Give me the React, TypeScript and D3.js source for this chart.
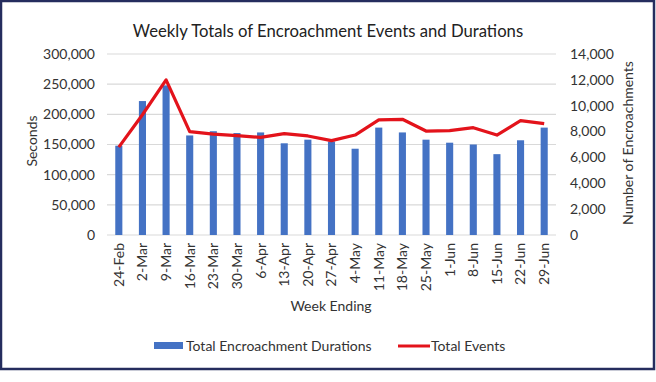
import React from "react";
import * as d3 from "d3";

const weeks = ["24-Feb","2-Mar","9-Mar","16-Mar","23-Mar","30-Mar","6-Apr","13-Apr","20-Apr","27-Apr","4-May","11-May","18-May","25-May","1-Jun","8-Jun","15-Jun","22-Jun","29-Jun"];
const durations = [148000,222000,248000,165000,172000,169000,170000,152000,158000,155000,143000,178000,170000,158000,153000,150000,134000,157000,178000];
const events = [6800,9300,12000,8000,7800,7680,7550,7840,7660,7300,7730,8900,8950,8040,8070,8300,7730,8840,8610];
const leftTicks = [0,50000,100000,150000,200000,250000,300000];
const rightTicks = [0,2000,4000,6000,8000,10000,12000,14000];

const W = 656, H = 382;
const FONT = "Lato, 'Open Sans', sans-serif";
const TXT = "#333";

export default function App() {
  const x = d3.scaleBand<string>().domain(weeks).range([107, 556]).paddingInner(0.7).paddingOuter(0.35);
  const yL = d3.scaleLinear().domain([0, 300000]).range([235, 54]);
  const yR = d3.scaleLinear().domain([0, 14000]).range([235, 54]);
  const fmt = d3.format(",");
  const cx = (w: string) => (x(w) as number) + x.bandwidth() / 2;
  const line = d3.line<number>().x((_, i) => cx(weeks[i])).y((d) => yR(d));

  return (
    <svg width={W} height={H} style={{ position: "absolute", left: 0, top: 0, background: "#fff" }} fontFamily={FONT}>
      <rect x={1} y={1} width={653} height={368} fill="#fff" stroke="#252d5e" strokeWidth={2.5} />
      <text x={328} y={37} textAnchor="middle" fontSize={16.7} fill="#222">Weekly Totals of Encroachment Events and Durations</text>
      {leftTicks.map((t) => (
        <g key={t}>
          {t > 0 && <line x1={107} x2={556} y1={yL(t)} y2={yL(t)} stroke="#d9d9d9" strokeWidth={1.2} />}
          <text x={95} y={yL(t)} dy="0.35em" textAnchor="end" fontSize={14} fill={TXT}>{fmt(t)}</text>
        </g>
      ))}
      {rightTicks.map((t) => (
        <text key={t} x={570} y={yR(t)} dy="0.35em" textAnchor="start" fontSize={14} fill={TXT}>{fmt(t)}</text>
      ))}
      <line x1={107} x2={556} y1={235} y2={235} stroke="#d9d9d9" strokeWidth={1.2} />
      {weeks.map((w, i) => (
        <rect key={w} x={x(w)} y={yL(durations[i])} width={x.bandwidth()} height={235 - yL(durations[i])} fill="#4472c4" />
      ))}
      <path d={line(events) || ""} fill="none" stroke="#e3131b" strokeWidth={3.2} strokeLinejoin="round" />
      {weeks.map((w) => (
        <text key={w} transform={`translate(${cx(w)},243) rotate(-90)`} dy="0.35em" textAnchor="end" fontSize={14} fill={TXT}>{w}</text>
      ))}
      <text x={331} y={306} dy="0.35em" textAnchor="middle" fontSize={14} fill={TXT}>Week Ending</text>
      <text transform="translate(32,141) rotate(-90)" dy="0.35em" textAnchor="middle" fontSize={14} fill={TXT}>Seconds</text>
      <text transform="translate(628,143) rotate(-90)" dy="0.35em" textAnchor="middle" fontSize={14} fill={TXT}>Number of Encroachments</text>
      <rect x={154} y={342} width={29} height={7} fill="#4472c4" />
      <text x={186} y={346} dy="0.35em" fontSize={14} fill={TXT}>Total Encroachment Durations</text>
      <line x1={398} x2={430} y1={346} y2={346} stroke="#e3131b" strokeWidth={3} />
      <text x={431} y={346} dy="0.35em" fontSize={14} fill={TXT}>Total Events</text>
    </svg>
  );
}
